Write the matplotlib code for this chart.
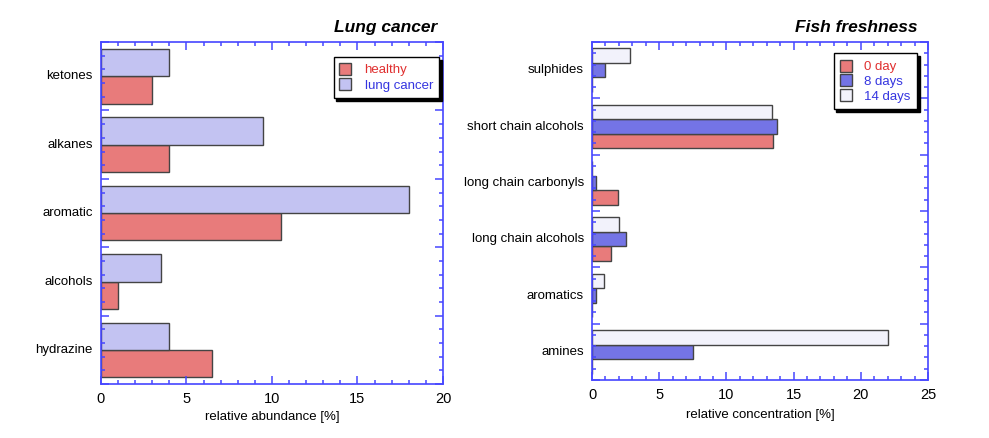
import numpy as np
import matplotlib.pyplot as plt
from matplotlib.ticker import MultipleLocator, FixedLocator
import matplotlib.transforms as mtransforms

plt.rcParams['font.family'] = ['Liberation Sans', 'DejaVu Sans']

# Lung cancer data (listed bottom to top)
lung_cats = ['hydrazine', 'alcohols', 'aromatic', 'alkanes', 'ketones']
healthy = [6.5, 1.0, 10.5, 4.0, 3.0]
lung_cancer = [4.0, 3.5, 18.0, 9.5, 4.0]

# Fish freshness data (listed bottom to top)
fish_cats = ['amines', 'aromatics', 'long chain alcohols', 'long chain carbonyls',
             'short chain alcohols', 'sulphides']
day0 = [0.0, 0.0, 1.4, 1.9, 13.5, 0.0]
day8 = [7.5, 0.3, 2.5, 0.3, 13.8, 1.0]
day14 = [22.0, 0.9, 2.0, 0.0, 13.4, 2.8]

spine_blue = '#4646ff'
edge = '#444444'
red_fill = '#e87b7b'
lav_fill = '#c3c3f2'
blue_fill = '#7474e6'
white_fill = '#f2f2fb'

fig = plt.figure(figsize=(9.89, 4.38), dpi=100)
ax1 = fig.add_axes([0.1021, 0.123, 0.3458, 0.781])
ax2 = fig.add_axes([0.5986, 0.1324, 0.3397, 0.7717])


def style_axes(ax, ncat, xmax):
    for s in ax.spines.values():
        s.set_color(spine_blue)
        s.set_linewidth(1.2)
    ax.set_xlim(0, xmax)
    ax.set_ylim(-0.5, ncat - 0.5)
    ax.xaxis.set_major_locator(MultipleLocator(5))
    ax.xaxis.set_minor_locator(MultipleLocator(1))
    ax.yaxis.set_major_locator(FixedLocator(np.arange(ncat + 1) - 0.5))
    ax.yaxis.set_minor_locator(FixedLocator(np.arange(-0.5, ncat - 0.49, 0.2)))
    ax.set_yticklabels([])
    ax.tick_params(which='both', direction='in', top=True, right=True,
                   color=spine_blue, width=1.1, labelsize=10.5)
    ax.tick_params(which='major', length=6)
    ax.tick_params(which='minor', length=3)
    ax.tick_params(axis='x', pad=6)


def cat_labels(ax, cats):
    trans = mtransforms.offset_copy(ax.get_yaxis_transform(), fig=fig,
                                    x=-8, y=0, units='dots')
    for i, c in enumerate(cats):
        ax.text(0, i, c, transform=trans, ha='right', va='center', fontsize=9.5)


def style_legend(leg, colors):
    leg.get_frame().set_edgecolor('black')
    leg.get_frame().set_linewidth(1.0)
    for t, c in zip(leg.get_texts(), colors):
        t.set_color(c)


# Lung cancer panel
y = np.arange(len(lung_cats))
h = 0.4
ax1.barh(y - h / 2, healthy, height=h, color=red_fill, edgecolor=edge,
         linewidth=1, label='healthy')
ax1.barh(y + h / 2, lung_cancer, height=h, color=lav_fill, edgecolor=edge,
         linewidth=1, label='lung cancer')
style_axes(ax1, len(lung_cats), 20)
cat_labels(ax1, lung_cats)
ax1.set_xlabel('relative abundance [%]', fontsize=9.5, labelpad=3)
ax1.set_title('Lung cancer', loc='right', x=0.982, fontsize=12.5,
              fontweight='bold', fontstyle='italic', pad=7)
leg1 = ax1.legend(loc='upper right', bbox_to_anchor=(0.988, 0.956),
                  borderaxespad=0, fontsize=9.5, fancybox=False,
                  shadow={'color': 'black', 'alpha': 1},
                  handlelength=0.9, handleheight=1.0, handletextpad=1.0,
                  borderpad=0.45, labelspacing=0.15, framealpha=1)
style_legend(leg1, ['#e03030', '#3535e0'])

# Fish freshness panel
y2 = np.arange(len(fish_cats))
h2 = 0.26
ax2.barh(y2 - h2, day0, height=h2, color=red_fill, edgecolor=edge,
         linewidth=1, label='0 day')
ax2.barh(y2, day8, height=h2, color=blue_fill, edgecolor=edge,
         linewidth=1, label='8 days')
ax2.barh(y2 + h2, day14, height=h2, color=white_fill, edgecolor=edge,
         linewidth=1, label='14 days')
style_axes(ax2, len(fish_cats), 25)
cat_labels(ax2, fish_cats)
ax2.set_xlabel('relative concentration [%]', fontsize=9.5, labelpad=5)
ax2.set_title('Fish freshness', loc='right', x=0.97, fontsize=12.5,
              fontweight='bold', fontstyle='italic', pad=7)
leg2 = ax2.legend(loc='upper right', bbox_to_anchor=(0.967, 0.967),
                  borderaxespad=0, fontsize=9.5, fancybox=False,
                  shadow={'color': 'black', 'alpha': 1},
                  handlelength=0.9, handleheight=1.0, handletextpad=0.9,
                  borderpad=0.5, labelspacing=0.1, framealpha=1)
style_legend(leg2, ['#e03030', '#3535e0', '#3535e0'])

fig.savefig('out.png', dpi=100)
